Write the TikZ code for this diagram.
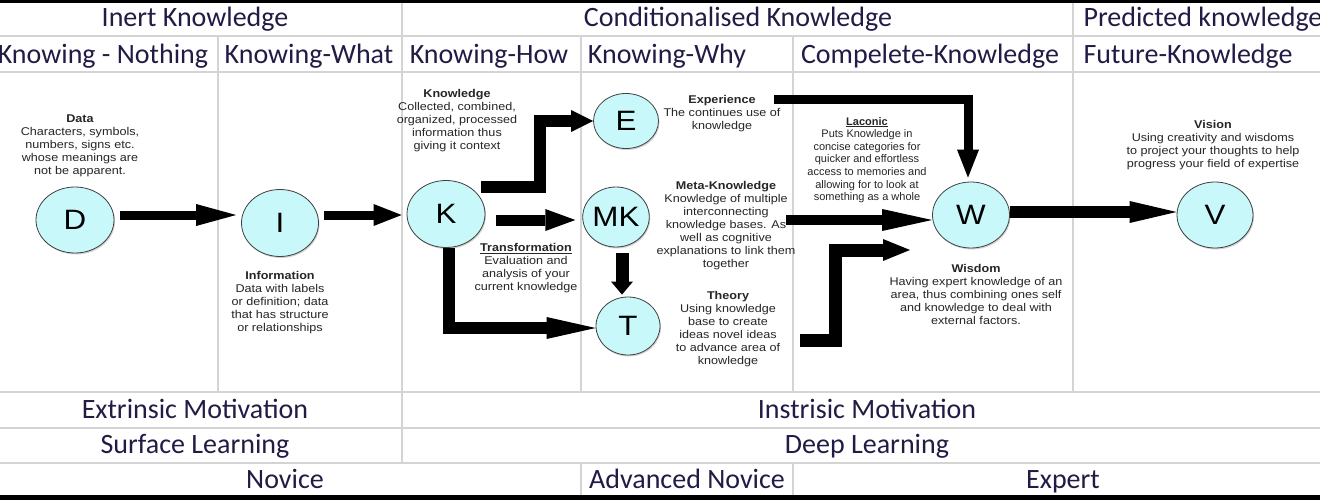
\documentclass[tikz,border=0pt]{standalone}
\usepackage{fontspec}
\setmainfont{Liberation Sans}
\newfontfamily\calibri{Carlito}
\newfontfamily\widesans{Liberation Sans}[FakeStretch=1.12]
\usetikzlibrary{arrows.meta,shapes.geometric,shadows}
\definecolor{stagefill}{RGB}{200,248,250}
\definecolor{gridgray}{RGB}{212,212,212}
\definecolor{headtext}{RGB}{36,26,70}

\begin{document}
\begin{tikzpicture}[x=1pt,y=-1pt,
        stage/.style={ellipse,draw=black!75,line width=0.8pt,fill=stagefill,inner sep=0pt,
            font=\widesans\fontsize{28}{30}\selectfont,
            drop shadow={shadow xshift=1pt,shadow yshift=-1.5pt,opacity=0.35}},
        head/.style={anchor=base,font=\calibri\fontsize{28}{30}\selectfont,text=headtext},
        note/.style={align=center,inner sep=0pt,font=\widesans\fontsize{11.25}{13}\selectfont,text=black!85},
        flow/.style 2 args={line width=#1,line join=miter,
            -{Triangle[length=#2,width=22pt,line width=0pt]}},
        grid/.style={gridgray,line width=2pt}]
    \useasboundingbox (0,0) rectangle (1320,500);
    \clip (0,0) rectangle (1320,500);
    \fill[white] (0,0) rectangle (1320,500);
    \draw[grid] (0,36) -- (1320,36) (0,72) -- (1320,72) (0,392) -- (1320,392)
        (0,428) -- (1320,428) (0,463) -- (1320,463);
    \draw[grid] (402,0) -- (402,463) (1073,0) -- (1073,392);
    \foreach \x in {218,581,793} \draw[grid] (\x,36) -- (\x,392);
    \foreach \x in {581,793} \draw[grid] (\x,463) -- (\x,500);
    \draw[black,line width=3.5pt] (0,1.5) -- (1320,1.5);
    \draw[black,line width=5pt] (0,497.5) -- (1320,497.5);
    \node[head] (inert) at (195,27) {Inert Knowledge};
    \node[head] (cond) at (738,27) {Conditionalised Knowledge};
    \node[head,anchor=base west] (pred) at (1080,27) {Predicted knowledge};
    \node[head] (nothing) at (103,64) {Knowing - Nothing};
    \node[head] (what) at (309,64) {Knowing-What};
    \node[head] (how) at (489,64) {Knowing-How};
    \node[head] (why) at (667,64) {Knowing-Why};
    \node[head] (complete) at (930,64) {Compelete-Knowledge};
    \node[head,anchor=base west] (future) at (1080,64) {Future-Knowledge};
    \node[head] (extrinsic) at (195,418) {Extrinsic Motivation};
    \node[head] (intrinsic) at (867,418) {Instrisic Motivation};
    \node[head] (surface) at (195,453) {Surface Learning};
    \node[head] (deep) at (867,453) {Deep Learning};
    \node[head] (novice) at (285,488) {Novice};
    \node[head] (advnovice) at (687,488) {Advanced Novice};
    \node[head] (expert) at (1063,488) {Expert};
    \node[stage,minimum width=78pt,minimum height=66pt] (D) at (75,220) {D};
    \node[stage,minimum width=77pt,minimum height=67pt] (I) at (280,223) {I};
    \node[stage,minimum width=78pt,minimum height=67pt] (K) at (446,214) {K};
    \node[stage,minimum width=65pt,minimum height=55pt] (E) at (626,121) {E};
    \node[stage,minimum width=64pt,minimum height=60pt] (MK) at (616,217) {MK};
    \node[stage,minimum width=64pt,minimum height=58pt] (T) at (628,326) {T};
    \node[stage,minimum width=77pt,minimum height=66pt] (W) at (971,215) {W};
    \node[stage,minimum width=76pt,minimum height=66pt] (V) at (1215,215) {V};
    \node[note] (data) at (80,146) {\textbf{Data}\\Characters, symbols,\\numbers, signs etc.\\whose meanings are\\not be apparent.};
    \node[note] (info) at (280,303) {\textbf{Information}\\Data with labels\\or definition; data\\that has structure\\or relationships};
    \node[note] (know) at (457,121) {\textbf{Knowledge}\\Collected, combined,\\organized, processed\\information thus\\giving it context};
    \node[note] (transf) at (526,268) {\underline{\textbf{Transformation}}\\Evaluation and\\analysis of your\\current knowledge};
    \node[note] (exper) at (722,114) {\textbf{Experience}\\The continues use of\\knowledge};
    \node[note] (meta) at (726,226) {\textbf{Meta-Knowledge}\\Knowledge of multiple\\interconnecting\\knowledge bases. As\\well as cognitive\\explanations to link them\\together};
    \node[note] (theory) at (728,329) {\textbf{Theory}\\Using knowledge\\base to create\\ideas novel ideas\\to advance area of\\knowledge};
    \node[note,font=\fontsize{11}{12.6}\selectfont] (laconic) at (867,160) {\underline{\textbf{Laconic}}\\Puts Knowledge in\\concise categories for\\quicker and effortless\\access to memories and\\allowing for to look at\\something as a whole};
    \node[note] (wisdom) at (976,294) {\textbf{Wisdom}\\Having expert knowledge of an\\area, thus combining ones self\\and knowledge to deal with\\external factors.};
    \node[note] (vision) at (1213,145) {\textbf{Vision}\\Using creativity and wisdoms\\to project your thoughts to help\\progress your field of expertise};
    \coordinate (expend) at (774,100);
    \coordinate (metaend) at (786,220);
    \coordinate (theoryend) at (800,340);
    \coordinate (wisdomin) at (910,250);
    \draw[flow={9pt}{40pt}] ([xshift=6pt,yshift=5pt]D.east) -- ([xshift=-5pt,yshift=8pt]I.west);
    \draw[flow={9pt}{28pt}] ([xshift=5pt,yshift=8pt]I.east) -- ([xshift=-5pt,yshift=-1pt]K.west);
    \draw[flow={11pt}{30pt}] ([xshift=11pt,yshift=-6pt]K.east) -- ([xshift=-7pt,yshift=-3pt]MK.west);
    \draw[flow={12pt}{22pt}] ([shift={(35pt,27pt)}]K.center) -- ++(59,0) |- (E.west);
    \draw[flow={12pt}{49pt}] ([xshift=3pt]K.south) |- ([yshift=-2pt]T.west);
    \draw[flow={13pt}{13pt}] ([xshift=6pt,yshift=-6pt]MK.south) -- ([xshift=-6pt,yshift=2pt]T.north);
    \draw[flow={9pt}{28pt}] (expend) -| ([xshift=-3pt,yshift=4pt]W.north);
    \draw[flow={10pt}{50pt}] (metaend) -- ([yshift=-5pt]W.west);
    \draw[flow={13pt}{27pt}] (theoryend) -- ++(35,0) |- (wisdomin);
    \draw[flow={12pt}{47pt}] ([yshift=3pt]W.east) -- ([yshift=3pt]V.west);
\end{tikzpicture}
\end{document}
